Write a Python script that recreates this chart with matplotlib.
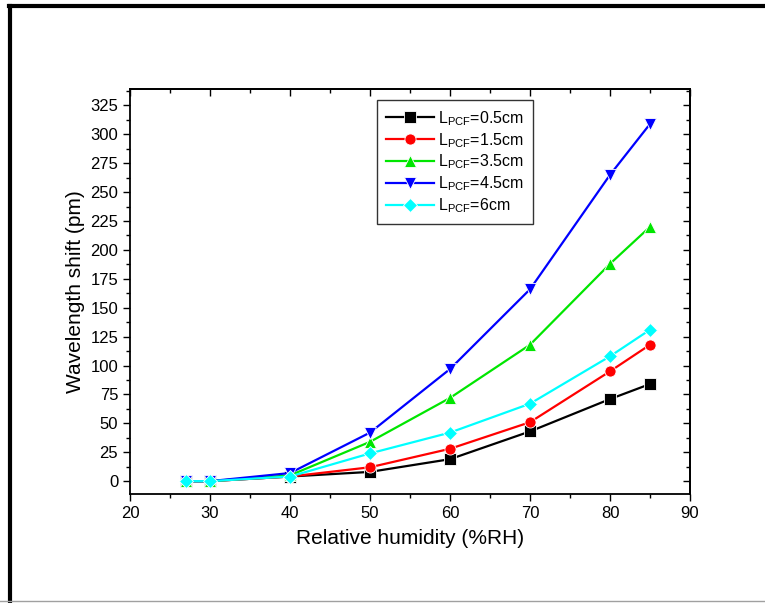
import matplotlib
matplotlib.use('Agg')
import matplotlib.pyplot as plt
from matplotlib.lines import Line2D
from matplotlib.ticker import MultipleLocator

plt.rcParams['font.family'] = ['Liberation Sans', 'DejaVu Sans']
plt.rcParams['mathtext.fontset'] = 'custom'
plt.rcParams['mathtext.rm'] = 'Liberation Sans'

humidity = [27, 30, 40, 50, 60, 70, 80, 85]
shift_05 = [0, 0, 4, 8, 19, 43, 71, 84]
shift_15 = [0, 0, 4, 12, 28, 51, 95, 118]
shift_35 = [0, 0, 5, 34, 72, 118, 188, 220]
shift_45 = [0, 0, 7, 42, 97, 166, 265, 309]
shift_6 = [0, 0, 4, 24, 42, 67, 108, 131]

labels = ['0.5cm', '1.5cm', '3.5cm', '4.5cm', '6cm']
colors = ['black', 'red', '#00e600', 'blue', 'cyan']
markers = ['s', 'o', '^', 'v', 'D']
series = [shift_05, shift_15, shift_35, shift_45, shift_6]

fig = plt.figure(figsize=(7.65, 6.03), dpi=100)
ax = fig.add_axes([0.170, 0.181, 0.732, 0.671])

for vals, lab, c, m in zip(series, labels, colors, markers):
    ms = 7 if m == 'D' else 8
    ax.plot(humidity, vals, color=c, marker=m, markersize=ms, linewidth=1.6,
            markeredgecolor='white', markeredgewidth=0.6,
            label=r'L$_{\mathrm{PCF}}$=' + lab)

ax.set_xlim(20, 90)
ax.set_ylim(-11, 339)
ax.xaxis.set_major_locator(MultipleLocator(10))
ax.xaxis.set_minor_locator(MultipleLocator(5))
ax.yaxis.set_major_locator(MultipleLocator(25))
ax.yaxis.set_minor_locator(MultipleLocator(12.5))
ax.set_yticks(range(0, 326, 25))

ax.tick_params(which='both', direction='out', top=False, right=False, labelsize=12, width=1)
ax.tick_params(which='major', length=5)
ax.tick_params(which='minor', length=3)
# inward ticks on top and right
ax2 = ax.secondary_xaxis('top')
ax2.xaxis.set_major_locator(MultipleLocator(10))
ax2.xaxis.set_minor_locator(MultipleLocator(5))
ax2.tick_params(which='both', direction='in', labeltop=False, width=1)
ax2.tick_params(which='major', length=5)
ax2.tick_params(which='minor', length=3)
ax3 = ax.secondary_yaxis('right')
ax3.yaxis.set_major_locator(MultipleLocator(25))
ax3.yaxis.set_minor_locator(MultipleLocator(12.5))
ax3.tick_params(which='both', direction='in', labelright=False, width=1)
ax3.tick_params(which='major', length=5)
ax3.tick_params(which='minor', length=3)
for s in ax.spines.values():
    s.set_linewidth(1.3)
ax2.spines['top'].set_linewidth(1.3)
ax3.spines['right'].set_linewidth(1.3)

ax.set_xlabel('Relative humidity (%RH)', fontsize=15, labelpad=6)
ax.set_ylabel('Wavelength shift (pm)', fontsize=15, labelpad=4)

leg = ax.legend(loc='upper left', bbox_to_anchor=(0.441, 0.973), fontsize=11.5,
                frameon=True, fancybox=False, edgecolor='black',
                handlelength=3.0, handletextpad=0.3, labelspacing=0.2,
                borderpad=0.55, borderaxespad=0)
leg.get_frame().set_linewidth(1)

# outer frame of the figure
fig.add_artist(Line2D([0.012, 1.0], [0.990, 0.990], color='black', linewidth=3, transform=fig.transFigure))
fig.add_artist(Line2D([0.013, 0.013], [0.0, 0.990], color='black', linewidth=3, transform=fig.transFigure))
fig.add_artist(Line2D([0.0, 1.0], [0.004, 0.004], color='#a0a0a0', linewidth=1, transform=fig.transFigure))

fig.savefig('out.png', dpi=100)
